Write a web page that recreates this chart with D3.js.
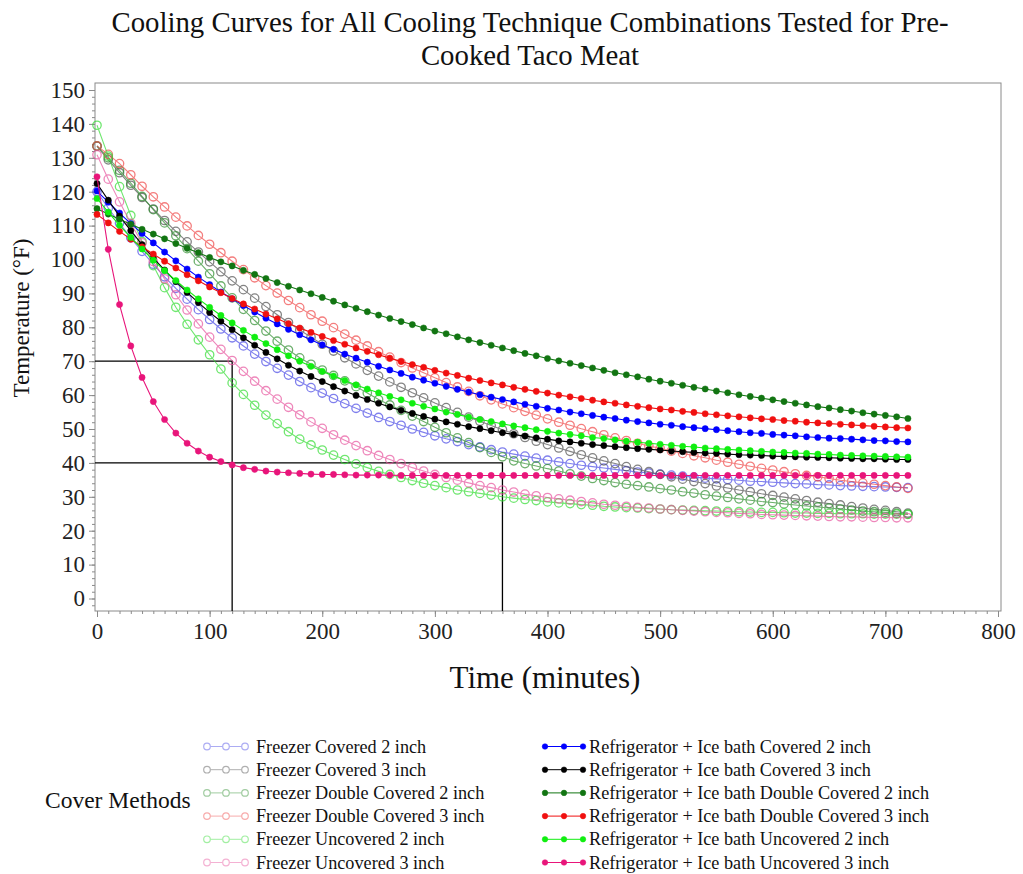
<!DOCTYPE html>
<html><head><meta charset="utf-8">
<script src="https://cdn.jsdelivr.net/npm/d3@7"></script>
<style>body{margin:0;background:#fff}svg{display:block}text{font-family:"Liberation Serif","Times New Roman",serif}</style>
</head><body><svg id="c" width="1023" height="874"></svg>
<script>
const times = [0,10,20,30,40,50,60,70,80,90,100,110,120,130,140,150,160,170,180,190,200,210,220,230,240,250,260,270,280,290,300,310,320,330,340,350,360,370,380,390,400,410,420,430,440,450,460,470,480,490,500,510,520,530,540,550,560,570,580,590,600,610,620,630,640,650,660,670,680,690,700,710,720];
const xTicks = [0,100,200,300,400,500,600,700,800];
const yTicks = [0,10,20,30,40,50,60,70,80,90,100,110,120,130,140,150];
const seriesNames = ["Freezer Covered 2 inch","Freezer Covered 3 inch","Freezer Double Covered 2 inch","Freezer Double Covered 3 inch","Freezer Uncovered 2 inch","Freezer Uncovered 3 inch","Refrigerator + Ice bath Covered 2 inch","Refrigerator + Ice bath Covered 3 inch","Refrigerator + Ice bath Double Covered 2 inch","Refrigerator + Ice bath Double Covered 3 inch","Refrigerator + Ice bath Uncovered 2 inch","Refrigerator + Ice bath Uncovered 3 inch"];
const fC2 = [120.0,115.2,110.7,106.4,102.4,98.6,94.9,91.5,88.3,85.2,82.3,79.5,76.9,74.5,72.1,69.9,67.9,65.9,64.0,62.2,60.6,59.0,57.5,56.1,54.7,53.4,52.2,51.1,50.0,49.0,48.0,47.1,46.3,45.4,44.7,43.9,43.2,42.6,42.0,41.4,40.8,40.3,39.8,39.3,38.9,38.5,38.1,37.7,37.3,37.0,36.7,36.4,36.1,35.8,35.5,35.3,35.1,34.9,34.6,34.5,34.3,34.1,33.9,33.8,33.6,33.5,33.3,33.2,33.1,33.0,32.9,32.8,32.7];
const fC3 = [133.4,129.4,125.6,121.9,118.3,114.9,111.5,108.3,105.2,102.2,99.3,96.4,93.7,91.1,88.6,86.1,83.7,81.4,79.2,77.1,75.0,73.0,71.0,69.2,67.3,65.6,63.9,62.3,60.7,59.2,57.7,56.3,54.9,53.5,52.3,51.0,49.8,48.6,47.5,46.4,45.4,44.4,43.4,42.4,41.5,40.6,39.8,38.9,38.1,37.4,36.6,35.9,35.2,34.5,33.9,33.2,32.6,32.0,31.5,30.9,30.4,29.9,29.4,28.9,28.4,28.0,27.6,27.1,26.7,26.3,26.0,25.6,25.2];
const fDC2 = [133.5,130.0,126.3,122.5,118.6,114.7,110.8,107.0,103.2,99.5,95.8,92.2,88.7,85.3,82.0,78.9,75.9,73.3,71.0,69.1,67.4,65.8,64.2,62.5,60.6,58.7,57.1,55.5,53.8,52.2,50.5,48.9,47.4,46.0,44.5,43.1,41.8,40.6,39.8,39.1,38.3,37.6,36.8,36.1,35.4,34.8,34.2,33.7,33.3,32.9,32.4,32.0,31.5,31.1,30.6,30.2,29.8,29.4,29.0,28.6,28.3,27.9,27.6,27.3,27.0,26.7,26.4,26.1,25.8,25.6,25.4,25.1,24.9];
const fDC3 = [133.5,131.0,128.3,125.0,121.6,118.5,115.5,112.5,109.9,107.1,104.5,102.0,99.5,97.0,94.6,92.3,90.1,87.9,85.8,83.7,81.8,79.9,78.0,76.2,74.5,72.8,71.2,69.6,68.0,66.6,65.1,63.7,62.4,61.1,59.8,58.6,57.4,56.3,55.2,54.1,53.0,52.0,51.1,50.1,49.2,48.3,47.4,46.6,45.8,45.0,44.3,43.5,42.8,42.1,41.5,40.8,40.2,39.6,39.0,38.4,37.9,37.4,36.8,36.3,35.9,35.4,34.9,34.5,34.1,33.7,33.3,32.9,32.5];
const fU2 = [139.6,130.5,121.5,113.0,105.3,98.2,91.7,85.9,80.9,76.3,71.9,67.7,63.6,60.2,57.0,54.1,51.6,49.2,47.0,45.3,43.8,42.3,41.0,39.7,38.6,37.5,36.6,35.7,34.8,34.0,33.3,32.7,32.0,31.5,31.0,30.5,30.0,29.6,29.2,28.9,28.5,28.2,28.0,27.7,27.5,27.2,27.0,26.8,26.7,26.5,26.4,26.2,26.1,26.0,25.9,25.8,25.7,25.6,25.5,25.4,25.4,25.3,25.2,25.2,25.1,25.1,25.0,25.0,25.0,24.9,24.9,24.9,24.8];
const fU3 = [130.9,123.7,117.0,110.7,104.9,99.4,94.3,89.6,85.1,81.0,77.1,73.5,70.2,67.0,64.1,61.3,58.8,56.4,54.2,52.1,50.2,48.3,46.7,45.1,43.6,42.2,41.0,39.8,38.6,37.6,36.6,35.7,34.9,34.1,33.3,32.7,32.0,31.4,30.8,30.3,29.8,29.4,29.0,28.6,28.2,27.8,27.5,27.2,26.9,26.7,26.4,26.2,26.0,25.8,25.6,25.4,25.3,25.1,25.0,24.8,24.7,24.6,24.5,24.4,24.3,24.2,24.1,24.1,24.0,23.9,23.9,23.8,23.8];
const rC2 = [120.2,116.9,113.7,110.6,107.7,104.9,102.2,99.6,97.2,94.8,92.6,90.4,88.4,86.4,84.5,82.7,81.0,79.4,77.8,76.3,74.8,73.5,72.1,70.9,69.7,68.5,67.4,66.4,65.3,64.4,63.5,62.6,61.7,60.9,60.1,59.4,58.7,58.0,57.3,56.7,56.1,55.6,55.0,54.5,54.0,53.5,53.1,52.6,52.2,51.8,51.4,51.1,50.7,50.4,50.1,49.8,49.5,49.2,48.9,48.7,48.4,48.2,48.0,47.7,47.5,47.3,47.2,47.0,46.8,46.6,46.5,46.3,46.2];
const rC3 = [122.4,117.5,112.8,108.5,104.4,100.5,96.9,93.5,90.3,87.3,84.4,81.8,79.3,76.9,74.7,72.6,70.7,68.8,67.1,65.5,64.0,62.5,61.2,59.9,58.7,57.6,56.5,55.5,54.6,53.7,52.9,52.1,51.4,50.7,50.1,49.5,48.9,48.4,47.9,47.4,47.0,46.5,46.2,45.8,45.4,45.1,44.8,44.5,44.2,44.0,43.8,43.5,43.3,43.1,42.9,42.8,42.6,42.4,42.3,42.2,42.0,41.9,41.8,41.7,41.6,41.5,41.4,41.3,41.2,41.2,41.1,41.0,41.0];
const rDC2 = [115.0,113.4,111.9,110.4,108.9,107.5,106.1,104.7,103.3,102.0,100.6,99.3,98.1,96.8,95.6,94.4,93.2,92.1,91.0,89.9,88.8,87.7,86.6,85.6,84.6,83.6,82.6,81.7,80.8,79.8,78.9,78.1,77.2,76.3,75.5,74.7,73.9,73.1,72.3,71.6,70.8,70.1,69.4,68.7,68.0,67.3,66.6,66.0,65.4,64.7,64.1,63.5,62.9,62.3,61.8,61.2,60.7,60.1,59.6,59.1,58.6,58.1,57.6,57.1,56.6,56.2,55.7,55.3,54.8,54.4,54.0,53.6,53.1];
const rDC3 = [113.3,110.8,108.3,106.0,103.7,101.6,99.5,97.5,95.5,93.7,91.9,90.2,88.5,86.9,85.4,83.9,82.5,81.1,79.8,78.5,77.3,76.1,75.0,73.9,72.9,71.9,70.9,69.9,69.0,68.2,67.3,66.5,65.8,65.0,64.3,63.6,63.0,62.3,61.7,61.1,60.6,60.0,59.5,59.0,58.5,58.0,57.6,57.1,56.7,56.3,55.9,55.6,55.2,54.9,54.5,54.2,53.9,53.6,53.3,53.0,52.8,52.5,52.3,52.0,51.8,51.6,51.4,51.2,51.0,50.8,50.6,50.4,50.3];
const rU2 = [118.0,114.0,110.1,106.5,103.1,99.8,96.7,93.8,91.0,88.4,85.9,83.5,81.3,79.1,77.1,75.2,73.4,71.6,70.0,68.5,67.0,65.6,64.3,63.0,61.8,60.7,59.6,58.6,57.6,56.7,55.9,55.0,54.3,53.5,52.8,52.2,51.5,50.9,50.4,49.8,49.3,48.8,48.4,48.0,47.5,47.2,46.8,46.4,46.1,45.8,45.5,45.2,44.9,44.7,44.4,44.2,44.0,43.8,43.6,43.4,43.2,43.1,42.9,42.8,42.6,42.5,42.3,42.2,42.1,42.0,41.9,41.8,41.7];
const rU3 = [124.4,103.0,86.7,74.5,65.2,58.1,52.8,48.8,45.8,43.5,41.7,40.4,39.4,38.6,38.1,37.6,37.3,37.1,36.9,36.7,36.6,36.6,36.5,36.4,36.4,36.4,36.4,36.3,36.3,36.3,36.3,36.3,36.3,36.3,36.3,36.3,36.3,36.3,36.3,36.3,36.3,36.3,36.3,36.3,36.3,36.3,36.3,36.3,36.3,36.3,36.3,36.3,36.3,36.3,36.3,36.3,36.3,36.3,36.3,36.3,36.3,36.3,36.3,36.3,36.3,36.3,36.3,36.3,36.3,36.3,36.3,36.3,36.3];
const seriesValues = [fC2,fC3,fDC2,fDC3,fU2,fU3,rC2,rC3,rDC2,rDC3,rU2,rU3];
const seriesColors = ["#4a4ae6","#505050","#2f8f2f","#f04848","#33dd33","#e8559f","#0000ff","#000000","#127512","#f01010","#11ee11","#e8157a"];
const guideLines = [[70,120],[40,360]];

const svg = d3.select("#c");
svg.append("rect").attr("width",1023).attr("height",874).attr("fill","#fff");
const L=95,R=1001,T=83,B=611;
const x = d3.scaleLinear().domain([0,800]).range([97,998]);
const y = d3.scaleLinear().domain([0,150]).range([598.5,90]);

// title
const title = svg.append("text").attr("text-anchor","middle").attr("font-size",28.8).attr("fill","#111");
title.append("tspan").attr("x",530).attr("y",32).text("Cooling Curves for All Cooling Technique Combinations Tested for Pre-");
title.append("tspan").attr("x",530).attr("y",65).text("Cooked Taco Meat");

// axes
const grey="#8a8a8a";
const yMinor = svg.append("g").attr("transform",`translate(${L},0)`).call(d3.axisLeft(y).tickValues(d3.range(-2,152,2)).tickSize(3).tickFormat(""));
const yMaj = svg.append("g").attr("transform",`translate(${L},0)`).call(d3.axisLeft(y).tickValues(yTicks).tickSize(6).tickPadding(4));
const xMinor = svg.append("g").attr("transform",`translate(0,${B})`).call(d3.axisBottom(x).tickValues(d3.range(0,801,10)).tickSize(3).tickFormat(""));
const xMaj = svg.append("g").attr("transform",`translate(0,${B})`).call(d3.axisBottom(x).tickValues(xTicks).tickSize(6).tickPadding(6));
[yMinor,yMaj,xMinor,xMaj].forEach(g=>{g.select(".domain").remove();g.selectAll("line").attr("stroke",grey);});
[yMaj,xMaj].forEach(g=>g.selectAll("text").attr("font-size",23).attr("fill","#222").attr("font-family","'Liberation Serif','Times New Roman',serif"));
svg.append("rect").attr("x",L).attr("y",T).attr("width",R-L).attr("height",B-T).attr("fill","none").attr("stroke",grey).attr("stroke-width",1);

svg.append("text").attr("x",545).attr("y",688).attr("text-anchor","middle").attr("font-size",31).attr("fill","#111").text("Time (minutes)");
svg.append("text").attr("transform","translate(29,318) rotate(-90)").attr("text-anchor","middle").attr("font-size",23).attr("fill","#111").text("Temperature (°F)");

// guide lines
guideLines.forEach(([t,m])=>{
  svg.append("path").attr("d",`M${L},${y(t)}H${x(m)}V${B}`).attr("fill","none").attr("stroke","#000").attr("stroke-width",1.3);
});

// series
const line = d3.line().x((d,i)=>x(times[i])).y(d=>y(d));
const plot = svg.append("g");
seriesValues.forEach((vals,si)=>{
  const open = si<6;
  const c = seriesColors[si];
  const g = plot.append("g").attr("opacity", open?0.7:1);
  g.append("path").attr("d",line(vals)).attr("fill","none").attr("stroke",c).attr("stroke-width",1.1);
  g.selectAll("circle").data(vals).join("circle")
    .attr("cx",(d,i)=>x(times[i])).attr("cy",d=>y(d))
    .attr("r",open?4.2:3.1)
    .attr("fill",open?"none":c).attr("stroke",c).attr("stroke-width",open?1.3:0.5);
});

// legend
svg.append("text").attr("x",45).attr("y",808).attr("font-size",23.5).attr("fill","#111").text("Cover Methods");
seriesNames.forEach((n,si)=>{
  const open = si<6, col = si<6?0:1, row = si%6;
  const cy = 746.5 + row*23.2;
  const x0 = col===0?207:545;
  const g = svg.append("g").attr("opacity",open?0.45:1);
  const c = seriesColors[si];
  g.append("line").attr("x1",x0).attr("x2",x0+38).attr("y1",cy).attr("y2",cy).attr("stroke",c).attr("stroke-width",1);
  [0,19,38].forEach(dx=>g.append("circle").attr("cx",x0+dx).attr("cy",cy).attr("r",open?3.3:2.8)
    .attr("fill",open?"#fff":c).attr("stroke",c).attr("stroke-width",open?1.2:0.5));
  svg.append("text").attr("x",col===0?256:589).attr("y",cy+6).attr("font-size",18.2).attr("fill","#111").text(n);
});
</script></body></html>
